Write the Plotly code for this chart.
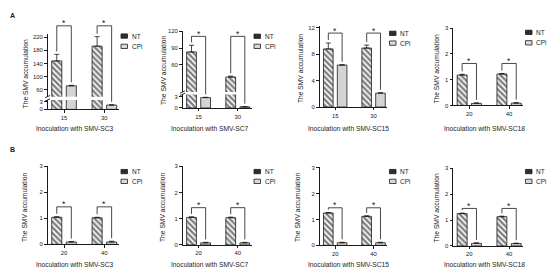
import plotly.graph_objects as go

W, H = 550, 278
FONT = "Liberation Sans, Arial, sans-serif"
INK = "#1a1a1a"

strains = ["SMV-SC3", "SMV-SC7", "SMV-SC15", "SMV-SC18"]

# panel A
groups_a = [["15", "30"], ["15", "30"], ["15", "30"], ["20", "40"]]
nt_a = [[148, 193], [83, 38], [8.8, 8.93], [1.18, 1.22]]
nt_a_err = [[20, 29], [12, 1.5], [0.9, 0.45], [0.03, 0.02]]
cpi_a = [[72, 1.65], [2.75, 0.3], [6.35, 2.1], [0.08, 0.09]]
cpi_a_err = [[1.5, 0.1], [0.08, 0.05], [0.05, 0.05], [0.02, 0.02]]
bracket_a = [255, 111, 11.2, 1.63]

# panel B
groups_b = [["20", "40"], ["20", "40"], ["20", "40"], ["20", "40"]]
nt_b = [[1.04, 1.02], [1.05, 1.04], [1.25, 1.12], [1.25, 1.13]]
nt_b_err = [[0.02, 0.02], [0.02, 0.02], [0.02, 0.02], [0.02, 0.02]]
cpi_b = [[0.09, 0.09], [0.08, 0.08], [0.1, 0.1], [0.1, 0.09]]
cpi_b_err = [[0.02, 0.03], [0.02, 0.02], [0.02, 0.02], [0.02, 0.02]]
bracket_b = [1.44, 1.42, 1.45, 1.45]

# ---- layout geometry (pixels) ----
col_x = [(47.5, 118.5), (182.5, 251.5), (319.5, 387), (453, 523)]
# segments: (lo, hi, px bottom, px top, tickvals)
segs_a = [
    [(0, 3.6, 108.7, 99.1, [0, 3]), (39, 230, 95.7, 31.7, [60, 100, 140, 180, 220])],
    [(0, 3.6, 107.3, 93.4, [0, 3]), (11, 121, 91, 28.4, [60, 90, 120])],
    [(0, 12.2, 106.3, 24, [0, 4, 8, 12])],
    [(0, 3.02, 104.7, 25.2, [0, 1, 2, 3])],
]
segs_b = [
    [(0, 3.01, 246.7, 166.5, [0, 1, 2, 3])],
    [(0, 3.01, 247.3, 166.5, [0, 1, 2, 3])],
    [(0, 3.01, 247.7, 168.0, [0, 1, 2, 3])],
    [(0, 3.01, 248.3, 168.7, [0, 1, 2, 3])],
]
legend_y = {"A": [(33.8, 44.3), (34, 44.3), (31, 41), (30, 40.7)],
            "B": [(172.3, 182.3)] * 4}
ytitle_pos = {"A": [(25, 73), (163, 69.5), (300, 67.5), (437, 68)],
              "B": [(25, 209.5), (163, 209.5), (298, 209.5), (436, 210)]}
xtitle_x = [74.5, 209.7, 348, 484.7]
xtitle_y = {"A": 128, "B": 267.7}
label_y = {"A": 7, "B": 150}


def px(x):
    return x / W


def py(y):
    return 1 - y / H


def val_to_px(segs, v):
    seg = segs[-1]
    for s in segs:
        if v <= s[1]:
            seg = s
            break
    lo, hi, pb, pt, _ = seg
    return pb - (v - lo) * (pb - pt) / (hi - lo)


fig = go.Figure()
layout = {}
shapes = []
annotations = []
xi = 0
yi = 0

rows = [
    ("A", segs_a, groups_a, nt_a, nt_a_err, cpi_a, cpi_a_err, bracket_a),
    ("B", segs_b, groups_b, nt_b, nt_b_err, cpi_b, cpi_b_err, bracket_b),
]

tickfont = dict(family=FONT, size=5.9, color=INK)

for row, segs_all, groups_all, nt_all, nte_all, cpi_all, cpie_all, brk_all in rows:
    annotations.append(dict(text="<b>%s</b>" % row, x=px(8), y=py(label_y[row]), xref="paper", yref="paper",
                            showarrow=False, font=dict(family=FONT, size=7, color=INK)))
    for c in range(4):
        segs = segs_all[c]
        groups = groups_all[c]
        nt, nte, cpi, cpie = nt_all[c], nte_all[c], cpi_all[c], cpie_all[c]
        x0, x1 = col_x[c]

        xi += 1
        xname = "x" if xi == 1 else "x%d" % xi
        xkey = "xaxis" if xi == 1 else "xaxis%d" % xi
        ynames = []
        for k, (lo, hi, pb, pt, tv) in enumerate(segs):
            yi += 1
            yname = "y" if yi == 1 else "y%d" % yi
            ykey = "yaxis" if yi == 1 else "yaxis%d" % yi
            ynames.append(yname)
            layout[ykey] = dict(domain=[py(pb), py(pt)], range=[lo, hi], anchor=xname,
                                tickmode="array", tickvals=tv, ticks="outside", ticklen=2.5,
                                tickwidth=0.8, tickcolor=INK, showline=True, linewidth=0.9,
                                linecolor=INK, showgrid=False, zeroline=False, tickfont=tickfont,
                                fixedrange=True)
        layout[xkey] = dict(domain=[px(x0), px(x1)], anchor=ynames[0], type="category",
                            range=[-0.41, 1.35], ticks="outside", ticklen=2.5, tickwidth=0.8,
                            tickcolor=INK, showline=True, linewidth=0.9, linecolor=INK,
                            showgrid=False, zeroline=False, tickfont=tickfont, fixedrange=True)

        for yname in ynames:
            fig.add_trace(go.Bar(
                x=groups, y=nt, xaxis=xname, yaxis=yname, offset=-0.305, width=0.25,
                marker=dict(color="white", line=dict(color=INK, width=0.8),
                            pattern=dict(shape="\\", fgcolor="black", bgcolor="white",
                                         size=4, solidity=0.6)),
                error_y=dict(type="data", array=nte, arrayminus=[0, 0], color=INK,
                             thickness=0.8, width=2.5),
                name="NT", showlegend=False, hoverinfo="skip",
            ))
            fig.add_trace(go.Bar(
                x=groups, y=cpi, xaxis=xname, yaxis=yname, offset=0.055, width=0.25,
                marker=dict(color="#d4d4d4", line=dict(color=INK, width=0.8)),
                error_y=dict(type="data", array=cpie, arrayminus=[0, 0], color=INK,
                             thickness=0.8, width=2.5),
                name="CPi", showlegend=False, hoverinfo="skip",
            ))

        # axis break marks
        if len(segs) > 1:
            for yb in (segs[0][3], segs[1][2]):
                shapes.append(dict(type="line", xref="paper", yref="paper",
                                   x0=px(x0 - 2.5), y0=py(yb + 1.2), x1=px(x0 + 2.5), y1=py(yb - 1.2),
                                   line=dict(color=INK, width=0.9)))

        # significance brackets
        ytop = val_to_px(segs, brk_all[c])
        for g in range(2):
            xl, xr = g - 0.18, g + 0.18
            yl = val_to_px(segs, nt[g] + nte[g]) - 3
            yr = val_to_px(segs, cpi[g] + cpie[g]) - 3
            for (a0, b0, a1, b1) in [(xl, yl, xl, ytop), (xl, ytop, xr, ytop), (xr, ytop, xr, yr)]:
                shapes.append(dict(type="line", xref=xname, yref="paper",
                                   x0=a0, y0=py(b0), x1=a1, y1=py(b1),
                                   line=dict(color=INK, width=0.8)))
            annotations.append(dict(text="*", x=g, xref=xname, y=py(ytop - 2.5), yref="paper",
                                    yanchor="middle", showarrow=False,
                                    font=dict(family=FONT, size=8.5, color=INK)))

        # legend
        ly_nt, ly_cpi = legend_y[row][c]
        lx = x1 + 2.5
        for ly, fill, name in [(ly_nt, "#2e2e2e", "NT"), (ly_cpi, "#d9d9d9", "CPi")]:
            shapes.append(dict(type="rect", xref="paper", yref="paper",
                               x0=px(lx), x1=px(lx + 6.5), y0=py(ly + 2.2), y1=py(ly - 2.2),
                               fillcolor=fill, line=dict(color=INK, width=0.8)))
            annotations.append(dict(text=name, x=px(lx + 8.5), y=py(ly), xref="paper", yref="paper",
                                    xanchor="left", yanchor="middle", showarrow=False,
                                    font=dict(family=FONT, size=6.5, color=INK)))

        # axis titles
        tx, ty = ytitle_pos[row][c]
        annotations.append(dict(text="The SMV accumulation", x=px(tx), y=py(ty), xref="paper", yref="paper",
                                textangle=-90, showarrow=False, xanchor="center", yanchor="middle",
                                font=dict(family=FONT, size=6.7, color=INK)))
        annotations.append(dict(text="Inoculation with " + strains[c], x=px(xtitle_x[c]), y=py(xtitle_y[row]),
                                xref="paper", yref="paper", showarrow=False, xanchor="center", yanchor="middle",
                                font=dict(family=FONT, size=6.7, color=INK)))

fig.update_layout(
    width=W, height=H, autosize=False,
    margin=dict(l=0, r=0, t=0, b=0),
    paper_bgcolor="white", plot_bgcolor="white",
    barmode="overlay", showlegend=False,
    font=dict(family=FONT, color=INK),
    shapes=shapes, annotations=annotations,
    **layout,
)

# the page's default body margin would shift the figure by 8px
fig.write_html("out.html", config={"displayModeBar": False},
               post_script="document.body.style.margin='0px';")
